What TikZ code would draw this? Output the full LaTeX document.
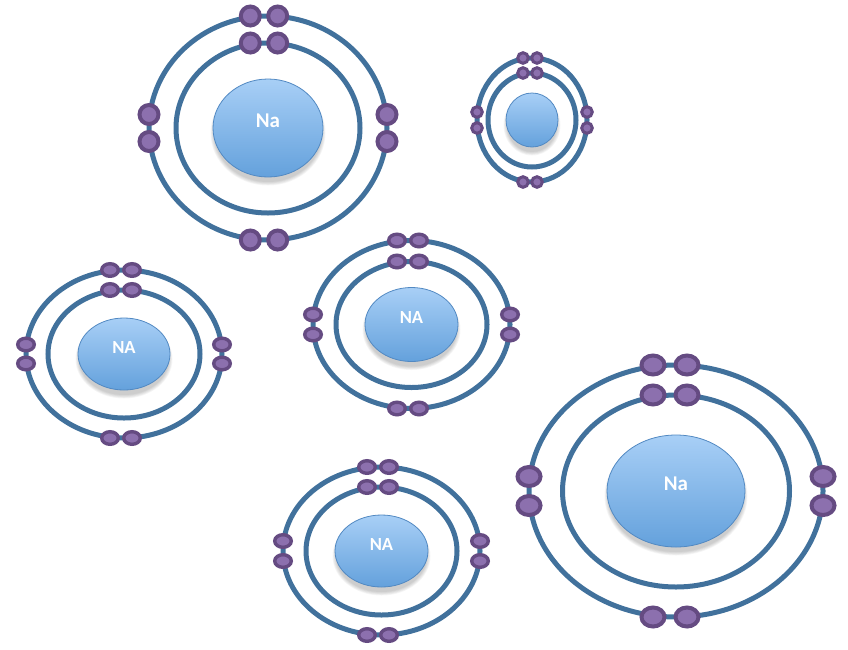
\documentclass[tikz,border=0pt]{standalone}
\usepackage{fontspec}
\setsansfont{Carlito}
\usetikzlibrary{shapes.geometric}
\definecolor{orbit}{HTML}{41719C}
\definecolor{eFill}{HTML}{8C70AE}
\definecolor{eEdge}{HTML}{654B82}
\definecolor{nucTop}{HTML}{A8CFF6}
\definecolor{nucMid}{HTML}{8CBDEE}
\definecolor{nucBot}{HTML}{64A1DC}
\definecolor{nucEdge}{HTML}{5289C2}

\begin{document}
\begin{tikzpicture}[x=1pt,y=-1pt,
  orbitline/.style={draw=orbit, line width=5pt},
  electron/.style={fill=eFill, draw=eEdge},
  nucleus/.style={ellipse, inner sep=0pt, outer sep=0pt, top color=nucTop,
    middle color=nucMid, bottom color=nucBot, draw=nucEdge, line width=0.8pt},
  nuclabel/.style={text=white, inner sep=0pt, font=\sffamily\bfseries},
]
\useasboundingbox (0,0) rectangle (848,649);

% name / centre / outer shell radii / inner shell radii / nucleus radii /
% electron radii / electron outline / pair offset / pair spacing (x,y) / label / size
\foreach \nm/\cx/\cy/\orx/\ory/\irx/\iry/\nrx/\nry/\erx/\ery/\elw/\esh/\edx/\edy/\lab/\fs in {
  A/268/128/119/112/92/85/55/49/9.5/9.5/4/-4/13.7/13.5/Na/21,
  B/532/120/55/62/44/47/26/27/5.3/5.3/3/-2/7/8/{}/10,
  C/124/354/98/84/76/64/46/36/8.3/6.3/3.4/-3/11/9.5/NA/18.5,
  D/411.5/324.5/98.5/84/75.5/63/46.5/37/8.3/6.3/3.4/-3.5/11/10/NA/18.5,
  E/381.5/551/98.5/84/75.5/64/46.5/36/8.3/6.3/3.4/-3.5/11/10/NA/18.5,
  F/676/491/147/126/113.5/96/69/56/11.5/9.5/4/-6/17/14.5/Na/21}{
  \pgfmathsetmacro\ex{\cx+(\esh)}
  \pgfmathsetmacro\nw{2*\nrx}
  \pgfmathsetmacro\nh{2*\nry}
  % electron shells
  \draw[orbitline] (\cx,\cy) ellipse [x radius=\orx, y radius=\ory];
  \draw[orbitline] (\cx,\cy) ellipse [x radius=\irx, y radius=\iry];
  % soft shadow under the nucleus
  \foreach \k in {0,...,5}
    \fill[black, opacity=0.035] (\cx,\cy+5) ellipse [x radius=\nrx+\k*0.7-1, y radius=\nry+\k*0.7];
  % nucleus
  \node[nucleus, minimum width=\nw pt, minimum height=\nh pt] (nuc\nm) at (\cx,\cy) {};
  \node[nuclabel, font=\sffamily\bfseries\fontsize{\fs}{\fs}\selectfont] (lab\nm) at (\cx,\cy-7) {\lab};
  % electron pairs
  \foreach \s in {-1,1} {
    \foreach \yy in {-\ory,-\iry,\ory}
      \draw[electron, line width=\elw pt] (\ex+\s*\edx,\cy+\yy) ellipse [x radius=\erx, y radius=\ery];
    \foreach \xx in {-\orx,\orx}
      \draw[electron, line width=\elw pt] (\cx+\xx,\cy+\s*\edy) ellipse [x radius=\erx, y radius=\ery];
  }
}
\end{tikzpicture}
\end{document}
